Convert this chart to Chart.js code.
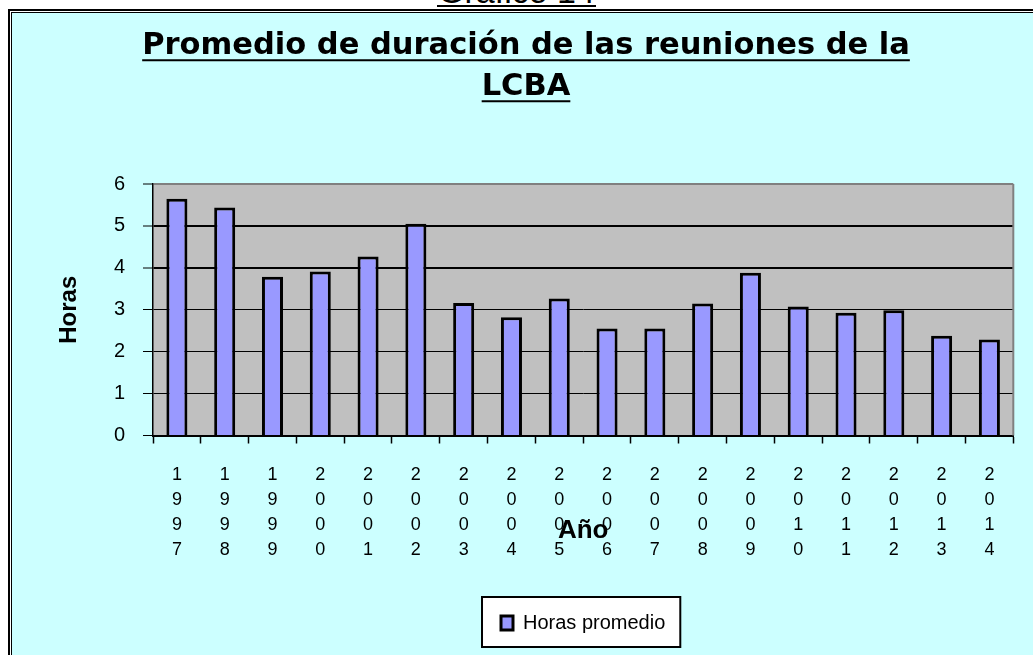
<!DOCTYPE html>
<html lang="es">
<head>
<meta charset="utf-8">
<title>Promedio de duración de las reuniones de la LCBA</title>
<script src="https://cdn.jsdelivr.net/npm/chart.js@4.4.1/dist/chart.umd.min.js"></script>
<style>
  html, body { margin: 0; padding: 0; background: #fff; overflow: hidden; width: 1033px; height: 655px; }
  #graf-num { position: absolute; left: 417px; width: 199px; top: -26px; text-align: center; font: 34px 'Liberation Sans', Arial, sans-serif; line-height: 34px; color: #000; white-space: pre; }
  #graf-num-line { position: absolute; left: 437px; top: 5px; width: 159px; height: 2px; background: #000; }
  #frame { position: absolute; left: 8px; top: 9px; width: 1100px; height: 700px; border: 2px solid #000; background: #fff; }
  #panel { position: absolute; left: 1px; top: 1px; width: 1090px; height: 690px; border: 1px solid #000; background: #ccffff; }
  #myChart { position: absolute; left: 0; top: 0; }
</style>
</head>
<body>
<div id="graf-num">Gráfico 14</div>
<div id="graf-num-line"></div>
<div id="frame">
  <div id="panel">
    <canvas id="myChart" width="1021" height="642"></canvas>
  </div>
</div>
<script>
// datos
const years = ['1997', '1998', '1999', '2000', '2001', '2002', '2003', '2004', '2005',
  '2006', '2007', '2008', '2009', '2010', '2011', '2012', '2013', '2014']
const hours = [5.65, 5.44, 3.79, 3.91, 4.27, 5.05, 3.16, 2.82, 3.27,
  2.55, 2.55, 3.15, 3.88, 3.08, 2.93, 2.99, 2.38, 2.29]
const seriesName = 'Horas promedio'
const titleLines = ['Promedio de duración de las reuniones de la', 'LCBA']
const yTitle = 'Horas'
const xTitle = 'Año'

const arial = "'Liberation Sans', Arial, sans-serif"

// fondo gris del area, marco de la leyenda y subrayado del titulo
const plotFrame = {
  id: 'plotFrame',
  beforeDraw(chart) {
    const { ctx, chartArea: a } = chart
    ctx.save()
    ctx.fillStyle = '#c0c0c0'
    ctx.fillRect(a.left, a.top, a.right - a.left, a.bottom - a.top)

    const hb = chart.legend.legendHitBoxes[0]
    if (hb) {
      const l = hb.left - 19, t = hb.top - 16
      const r = hb.left + hb.width + 15, b = hb.top + hb.height + 14
      ctx.fillStyle = '#fff'
      ctx.fillRect(l, t, r - l, b - t)
      ctx.strokeStyle = '#000'
      ctx.lineWidth = 2
      ctx.strokeRect(l, t, r - l, b - t)
    }
    ctx.restore()
  },
  afterDraw(chart) {
    const { ctx, chartArea: a } = chart
    ctx.save()
    ctx.strokeStyle = '#808080'
    ctx.lineWidth = 2
    ctx.beginPath()
    ctx.moveTo(a.right, a.top)
    ctx.lineTo(a.right, a.bottom)
    ctx.stroke()

    // subrayado del titulo
    const tb = chart.titleBlock
    const tf = tb.options.font
    ctx.font = 'bold ' + tf.size + 'px ' + tf.family
    ctx.textBaseline = 'middle'
    ctx.strokeStyle = '#000'
    ctx.lineWidth = 2
    const lh = 41
    const cx = (tb.left + tb.right) / 2
    const drop = ctx.measureText('H').actualBoundingBoxDescent
    titleLines.forEach((line, i) => {
      const w = ctx.measureText(line).width
      const y = tb.top + tb.options.padding.top + lh / 2 + i * lh + drop + 6
      ctx.beginPath()
      ctx.moveTo(cx - w / 2, y)
      ctx.lineTo(cx + w / 2, y)
      ctx.stroke()
    })
    ctx.restore()
  }
}

const ctx = document.getElementById('myChart')
const myChart = new Chart(ctx, {
  type: 'bar',
  data: {
    labels: years,
    datasets: [{
      label: seriesName,
      data: hours,
      backgroundColor: '#9999ff',
      borderColor: '#000',
      borderWidth: 3,
      categoryPercentage: 1,
      barPercentage: 0.44
    }]
  },
  options: {
    responsive: false,
    animation: false,
    devicePixelRatio: 1,
    layout: {
      padding: { left: 26.7, right: 19.7, top: 0, bottom: 12 }
    },
    scales: {
      x: {
        afterFit(scale) { scale.height = 167.5 },
        grid: {
          offset: true,
          drawOnChartArea: false,
          tickLength: 8,
          tickColor: '#000',
          tickWidth: 1.5
        },
        border: { color: '#000', width: 2 },
        ticks: {
          autoSkip: false,
          maxRotation: 0,
          padding: 19,
          color: '#000',
          font: { family: arial, size: 18, lineHeight: '25px' },
          callback: (value, index) => years[index].split('')
        },
        title: {
          display: true,
          text: xTitle,
          color: '#000',
          font: { family: arial, size: 26, weight: 'bold' },
          padding: { top: 0, bottom: 56.4 }
        }
      },
      y: {
        min: 0,
        max: 6,
        afterFit(scale) { scale.width = 114.3 },
        grid: {
          color: (c) => c.tick.value === 6 ? '#808080' : '#000',
          lineWidth: (c) => c.tick.value >= 4 ? 2 : 1,
          tickLength: 10,
          tickColor: '#000',
          tickWidth: 1
        },
        border: { color: '#000', width: 1.5 },
        ticks: {
          stepSize: 1,
          padding: 18,
          color: '#000',
          font: { family: arial, size: 20 }
        },
        title: {
          display: true,
          text: yTitle,
          color: '#000',
          font: { family: arial, size: 24, weight: 'bold' },
          padding: { top: 15.9, bottom: 0 }
        }
      }
    },
    plugins: {
      title: {
        display: true,
        text: titleLines,
        color: '#000',
        font: { family: "'DejaVu Sans', sans-serif", size: 30.5, weight: 'bold', lineHeight: '41px' },
        padding: { top: 12.9, bottom: 76.1 }
      },
      legend: {
        position: 'bottom',
        fullSize: false,
        labels: {
          color: '#000',
          boxWidth: 12,
          boxHeight: 14,
          padding: 10,
          font: { family: arial, size: 20 }
        }
      },
      tooltip: { enabled: false }
    }
  },
  plugins: [plotFrame]
})
</script>
</body>
</html>
